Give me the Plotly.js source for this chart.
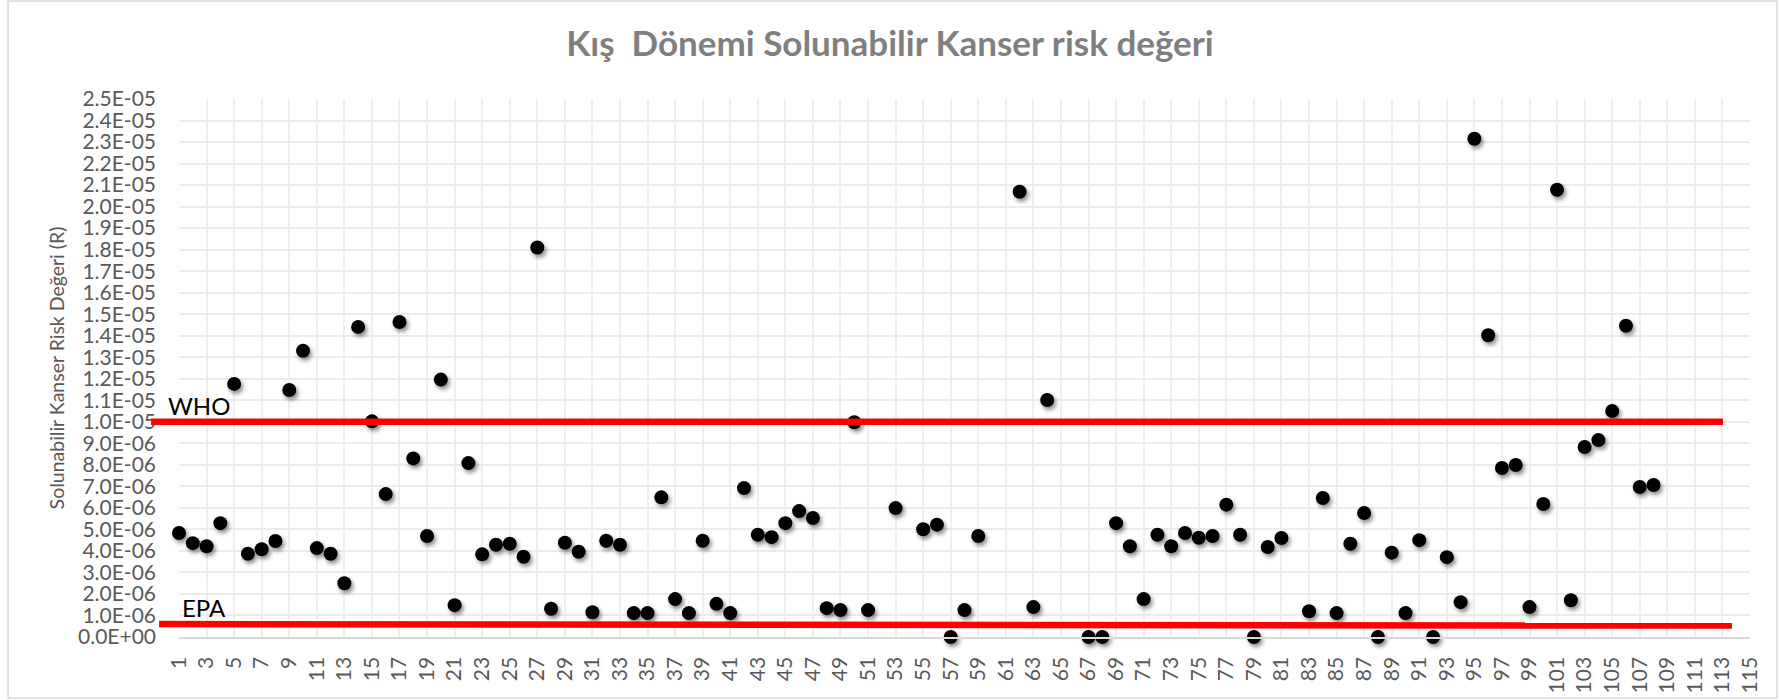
<!DOCTYPE html>
<html>
<head>
<meta charset="utf-8">
<script src="https://cdn.plot.ly/plotly-3.0.1.min.js"></script>
<style>
  html, body { margin: 0; padding: 0; background: #ffffff; }
  #chart { width: 1780px; height: 700px; }
  .scatterlayer .point { filter: drop-shadow(2px 3px 2px rgba(0,0,0,0.45)); }
</style>
</head>
<body>
<div id="chart"></div>
<script>
// Categories (sample numbers) with a reading
const categories = [
  1, 2, 3, 4, 5, 6, 7, 8, 9, 10,
  11, 12, 13, 14, 15, 16, 17, 18, 19, 20,
  21, 22, 23, 24, 25, 26, 27, 28, 29, 30,
  31, 32, 33, 34, 35, 36, 37, 38, 39, 40,
  41, 42, 43, 44, 45, 46, 47, 48, 49, 50,
  51, 53, 55, 56, 57, 58, 59,
  62, 63, 64, 67, 68, 69, 70,
  71, 72, 73, 74, 75, 76, 77, 78, 79, 80,
  81, 83, 84, 85, 86, 87, 88, 89, 90,
  91, 92, 93, 94, 95, 96, 97, 98, 99, 100,
  101, 102, 103, 104, 105, 106, 107, 108
];

// Inhalation cancer risk values (R)
const riskValues = [
  4.83e-6, 4.36e-6, 4.22e-6, 5.29e-6, 1.176e-5, 3.87e-6, 4.08e-6, 4.46e-6, 1.148e-5, 1.33e-5,
  4.13e-6, 3.87e-6, 2.50e-6, 1.441e-5, 1.002e-5, 6.64e-6, 1.464e-5, 8.30e-6, 4.69e-6, 1.196e-5,
  1.48e-6, 8.08e-6, 3.84e-6, 4.29e-6, 4.33e-6, 3.73e-6, 1.810e-5, 1.31e-6, 4.38e-6, 3.96e-6,
  1.15e-6, 4.47e-6, 4.29e-6, 1.11e-6, 1.11e-6, 6.49e-6, 1.76e-6, 1.11e-6, 4.47e-6, 1.54e-6,
  1.11e-6, 6.92e-6, 4.75e-6, 4.64e-6, 5.29e-6, 5.85e-6, 5.53e-6, 1.34e-6, 1.25e-6, 9.98e-6,
  1.25e-6, 5.99e-6, 5.01e-6, 5.22e-6, 0, 1.25e-6, 4.69e-6,
  2.069e-5, 1.39e-6, 1.101e-5, 0, 0, 5.29e-6, 4.22e-6,
  1.76e-6, 4.75e-6, 4.22e-6, 4.83e-6, 4.61e-6, 4.69e-6, 6.15e-6, 4.75e-6, 0, 4.18e-6,
  4.60e-6, 1.20e-6, 6.46e-6, 1.11e-6, 4.33e-6, 5.76e-6, 0, 3.92e-6, 1.11e-6,
  4.50e-6, 0, 3.71e-6, 1.62e-6, 2.315e-5, 1.402e-5, 7.85e-6, 7.99e-6, 1.39e-6, 6.18e-6,
  2.078e-5, 1.71e-6, 8.83e-6, 9.15e-6, 1.050e-5, 1.446e-5, 6.97e-6, 7.06e-6
];

// Y tick labels as printed on the axis
const yTickLabels = [
  "0.0E+00", "1.0E-06", "2.0E-06", "3.0E-06", "4.0E-06", "5.0E-06", "6.0E-06",
  "7.0E-06", "8.0E-06", "9.0E-06", "1.0E-05", "1.1E-05", "1.2E-05", "1.3E-05",
  "1.4E-05", "1.5E-05", "1.6E-05", "1.7E-05", "1.8E-05", "1.9E-05", "2.0E-05",
  "2.1E-05", "2.2E-05", "2.3E-05", "2.4E-05", "2.5E-05"
];

// Reference limits
const limitNames = ["WHO", "EPA"];
const limitValues = [1.0e-5, 6.0e-7];
const limitValuesEnd = [1.0e-5, 5.3e-7];

const xMin = 1, xMax = 115;
const yMax = 2.5e-5;

const FONT = "Lato, 'Open Sans', sans-serif";

const trace = {
  type: "scatter",
  mode: "markers",
  x: categories,
  y: riskValues,
  marker: { color: "#000000", size: 14 },
  hoverinfo: "x+y",
  cliponaxis: false,
  showlegend: false
};

const shapes = [
  // chart area border
  { type: "rect", xref: "paper", yref: "paper",
    x0: -0.1088, x1: 1.0172, y0: -0.1134, y1: 1.1822,
    line: { color: "#d9d9d9", width: 1.5 }, layer: "below" },
  // WHO limit line
  { type: "line", xref: "paper", yref: "y",
    x0: -0.0178, x1: 0.9828, y0: limitValues[0], y1: limitValuesEnd[0],
    line: { color: "#ff0000", width: 6.5 }, layer: "above" },
  // EPA limit line
  { type: "line", xref: "paper", yref: "y",
    x0: -0.0127, x1: 0.9885, y0: limitValues[1], y1: limitValuesEnd[1],
    line: { color: "#ff0000", width: 6.5 }, layer: "above" }
];

const annotations = [
  { xref: "paper", yref: "y", x: -0.008, y: limitValues[0],
    xanchor: "left", yanchor: "bottom", showarrow: false,
    text: limitNames[0], font: { family: FONT, size: 24, color: "#000000" } },
  { xref: "paper", yref: "y", x: 0.0005, y: limitValues[1],
    xanchor: "left", yanchor: "bottom", showarrow: false,
    text: limitNames[1], font: { family: FONT, size: 24, color: "#000000" } }
];

const layout = {
  width: 1780,
  height: 700,
  margin: { l: 179, r: 30, t: 99, b: 63 },
  paper_bgcolor: "#ffffff",
  plot_bgcolor: "#ffffff",
  title: {
    text: "Kış  Dönemi Solunabilir Kanser risk değeri",
    font: { family: FONT, size: 35, color: "#7f7f7f", weight: 700 },
    x: 0.5, xref: "container", xanchor: "center",
    y: 0.937, yref: "container", yanchor: "middle"
  },
  xaxis: {
    range: [xMin, xMax],
    tickmode: "linear",
    tick0: 1,
    dtick: 2,
    tickangle: -90,
    ticks: "",
    ticklabelstandoff: 10,
    tickfont: { family: FONT, size: 21, color: "#595959" },
    showgrid: true,
    gridcolor: "#efefef",
    gridwidth: 2,
    zeroline: false,
    showline: true,
    linecolor: "#d9d9d9",
    linewidth: 1.5,
    fixedrange: true
  },
  yaxis: {
    range: [0, yMax],
    tickmode: "array",
    tickvals: yTickLabels.map(s => parseFloat(s)),
    ticktext: yTickLabels,
    ticks: "",
    ticklabelstandoff: 22,
    tickfont: { family: FONT, size: 21, color: "#595959" },
    showgrid: true,
    gridcolor: "#eeece4",
    gridwidth: 2,
    zeroline: false,
    showline: false,
    title: {
      text: "Solunabilir Kanser Risk Değeri (R)",
      font: { family: FONT, size: 19.5, color: "#595959" },
      standoff: 8
    },
    fixedrange: true
  },
  shapes: shapes,
  annotations: annotations
};

Plotly.newPlot("chart", [trace], layout, { displayModeBar: false, staticPlot: true });
</script>
</body>
</html>
